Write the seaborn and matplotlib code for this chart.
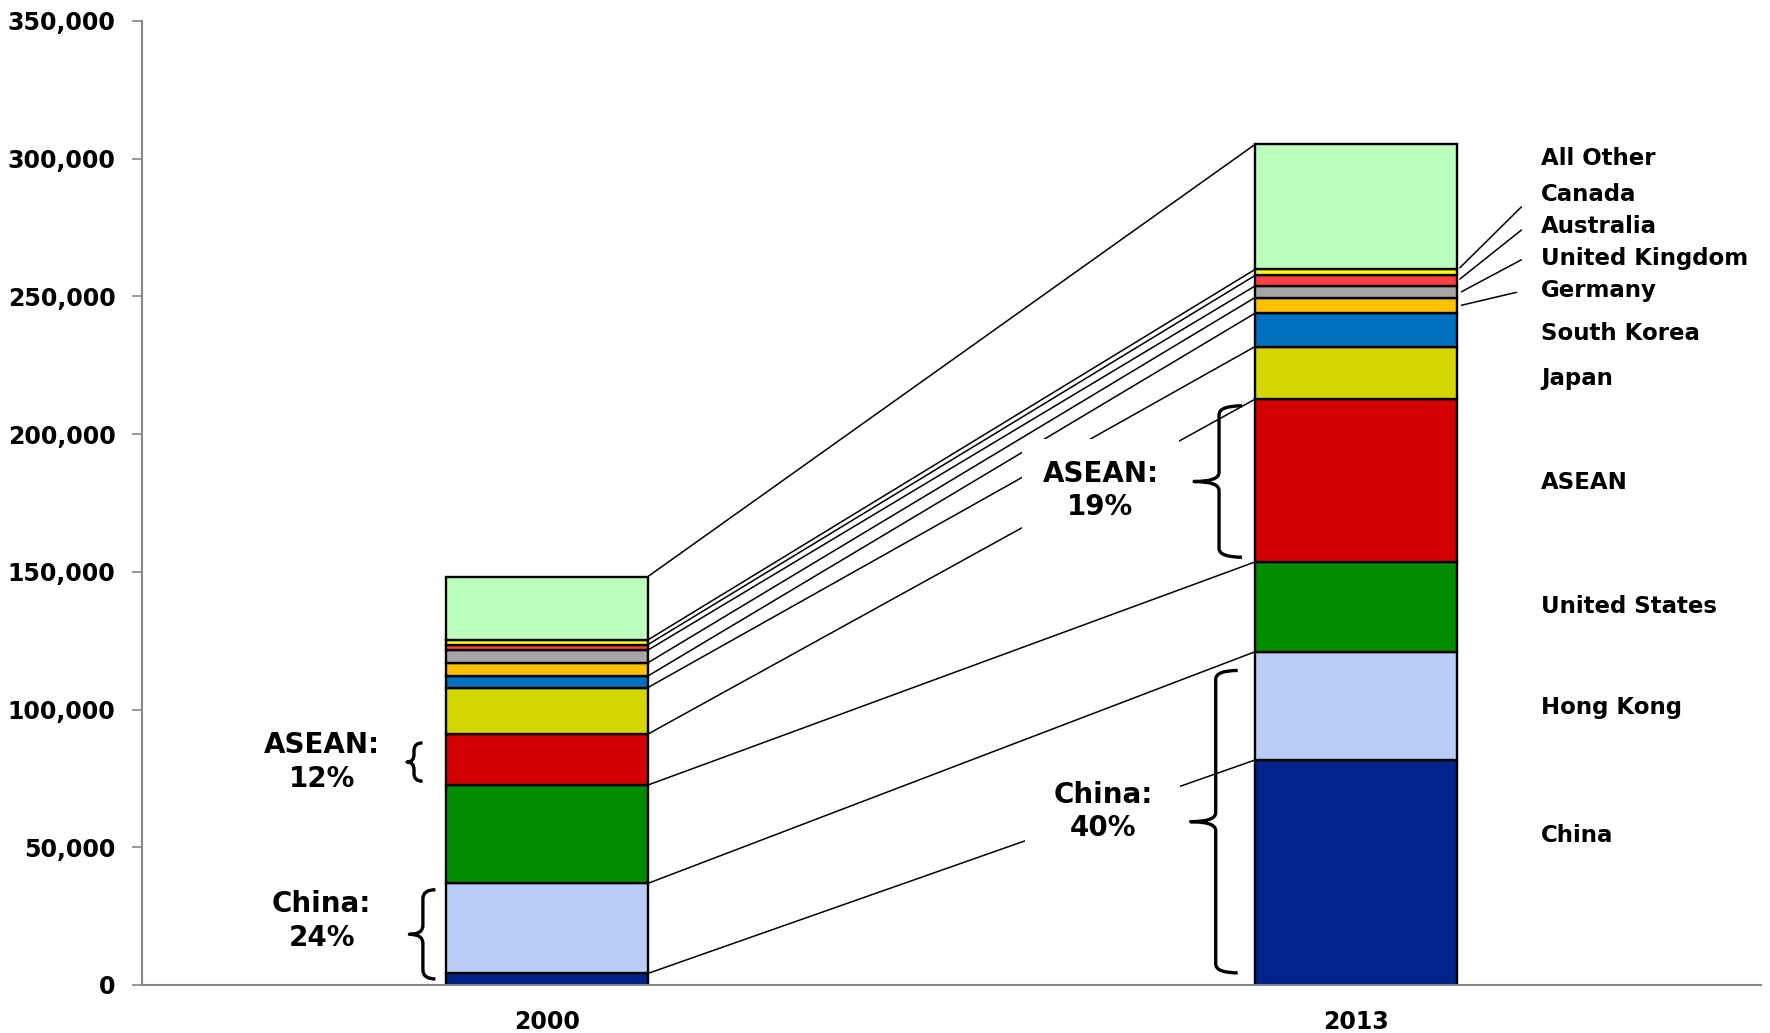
import numpy as np
import pandas as pd
import matplotlib
matplotlib.use("Agg")
import matplotlib.pyplot as plt
import seaborn as sns
from matplotlib.path import Path
from matplotlib.patches import PathPatch
from matplotlib.transforms import IdentityTransform
from matplotlib.ticker import FuncFormatter, MultipleLocator

# ---------------- data ----------------
years = ["2000", "2013"]
partners = ["China", "Hong Kong", "United States", "ASEAN", "Japan",
            "South Korea", "Germany", "United Kingdom", "Australia",
            "Canada", "All Other"]
china = [4200, 81700]
hong_kong = [32700, 39300]
united_states = [35700, 32600]
asean = [18500, 59100]
japan = [16900, 19100]
south_korea = [4200, 12100]
germany = [4800, 5700]
united_kingdom = [4600, 4200]
australia = [2000, 3800]
canada = [1700, 2200]
all_other = [23000, 45400]

series = [china, hong_kong, united_states, asean, japan, south_korea,
          germany, united_kingdom, australia, canada, all_other]

# ---------------- styles / layout ----------------
colors = ["#02238C", "#BBCCF6", "#008C00", "#D20000", "#D5D500",
          "#0070C0", "#FFC000", "#A6A6A6", "#FF4040", "#FFFF00", "#BCFEBB"]
label_y = [54100, 100800, 137300, 182400, 220100, 236400, 252000,
           263600, 275500, 287000, 300200]
leader_lines = {  # (x0, y0, x1, y1) for the small segments
    "Canada": (1.128, 260400, 1.204, 282500),
    "Australia": (1.128, 256300, 1.204, 274100),
    "United Kingdom": (1.130, 251700, 1.204, 263300),
    "Germany": (1.130, 246800, 1.198, 251500),
}

sns.set_style("white")
plt.rcParams["font.family"] = ["DejaVu Sans"]
plt.rcParams["font.weight"] = "bold"
plt.rcParams["text.color"] = "black"
plt.rcParams["xtick.labelcolor"] = "black"
plt.rcParams["ytick.labelcolor"] = "black"

fig = plt.figure(figsize=(17.7, 10.33), dpi=100)
ax = fig.add_axes([142 / 1770, 48 / 1033, (1761 - 142) / 1770, (985 - 21) / 1033])

bottom = np.zeros(len(years))
tops = []
for name, vals, col in zip(partners, series, colors):
    sns.barplot(x=years, y=vals, order=years, bottom=bottom.copy(), color=col,
                saturation=1, width=0.25, edgecolor="black", linewidth=1.7,
                errorbar=None, ax=ax, zorder=2)
    bottom = bottom + np.array(vals, dtype=float)
    tops.append(bottom.copy())

ax.set_xlim(-0.5, 1.5)
ax.set_ylim(0, 350000)

# connecting lines between segment tops
for t in tops:
    ax.plot([0.125, 0.875], [t[0], t[1]], color="black", lw=1.1, zorder=1)

# right side labels
for name, ly in zip(partners, label_y):
    ax.text(1.228, ly, name, fontsize=16.5, fontweight="bold", ha="left",
            va="center", color="black", clip_on=False)
for name, (x0, y0, x1, y1) in leader_lines.items():
    ax.plot([x0, x1], [y0, y1], color="black", lw=1.1, clip_on=False)

# annotations
box = dict(boxstyle="square,pad=0.75", facecolor="white", edgecolor="none")
ax.text(-0.278, 81000, "ASEAN:\n12%", fontsize=20, fontweight="bold",
        ha="center", va="center", linespacing=1.25, zorder=5, color="black")
ax.text(-0.278, 23200, "China:\n24%", fontsize=20, fontweight="bold",
        ha="center", va="center", linespacing=1.25, zorder=5, color="black")
ax.text(0.684, 179500, "ASEAN:\n19%", fontsize=20, fontweight="bold",
        ha="center", va="center", linespacing=1.25, zorder=5, bbox=box,
        color="black")
ax.text(0.687, 63000, "China:\n40%", fontsize=20, fontweight="bold",
        ha="center", va="center", linespacing=1.25, zorder=5, color="black",
        bbox=dict(boxstyle="square,pad=1.0", facecolor="white", edgecolor="none"))

# axes styling
ax.yaxis.set_major_locator(MultipleLocator(50000))
ax.yaxis.set_major_formatter(FuncFormatter(lambda v, p: f"{int(v):,}"))
for s in ["top", "right"]:
    ax.spines[s].set_visible(False)
for s in ["left", "bottom"]:
    ax.spines[s].set_color("#888888")
    ax.spines[s].set_linewidth(1.5)
ax.tick_params(axis="y", direction="out", length=7, width=1.2, color="#888888",
               pad=12, labelsize=17, left=True, labelcolor="black")
ax.tick_params(axis="x", length=0, pad=18, labelsize=17, labelcolor="black")
for lab in ax.get_xticklabels() + ax.get_yticklabels():
    lab.set_fontweight("bold")
    lab.set_color("black")
ax.set_xlabel("")
ax.set_ylabel("")


# curly braces
def brace(x, y_top, y_bot, tip_px, mid_px, lw=2.4):
    X, Yt = ax.transData.transform((x, y_top))
    _, Yb = ax.transData.transform((x, y_bot))
    Ym = (Yt + Yb) / 2.0
    r = min(9.0, (Yt - Yb) / 5.0)
    verts = [(X + tip_px, Yt), (X, Yt), (X, Yt - r),
             (X, Ym + r), (X, Ym), (X - mid_px, Ym),
             (X, Ym), (X, Ym - r),
             (X, Yb + r), (X, Yb), (X + tip_px, Yb)]
    codes = [Path.MOVETO, Path.CURVE3, Path.CURVE3,
             Path.LINETO, Path.CURVE3, Path.CURVE3,
             Path.CURVE3, Path.CURVE3,
             Path.LINETO, Path.CURVE3, Path.CURVE3]
    patch = PathPatch(Path(verts, codes), transform=IdentityTransform(),
                      facecolor="none", edgecolor="black", lw=lw,
                      capstyle="butt", joinstyle="round", zorder=6)
    fig.add_artist(patch)


brace(-0.164, 87900, 74000, 8.5, 7)
brace(-0.153, 34600, 2200, 12.5, 13.5)
brace(0.8305, 210300, 155300, 23, 25)
brace(0.8264, 114200, 4400, 22, 25)

fig.savefig("out.png", dpi=100)
